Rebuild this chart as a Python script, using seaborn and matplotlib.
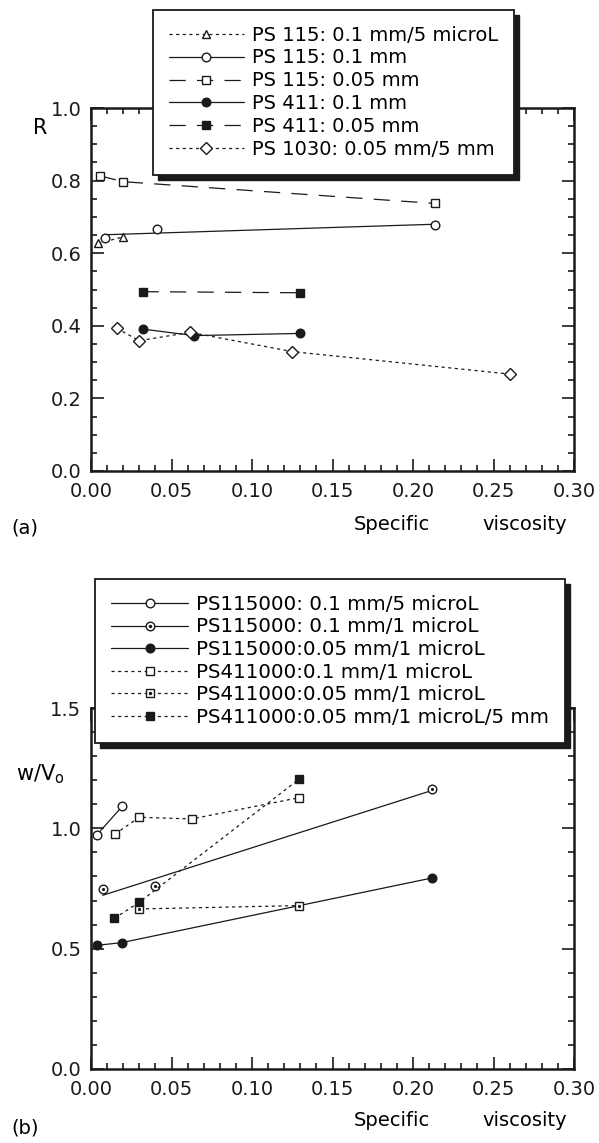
import numpy as np
import pandas as pd
import seaborn as sns
import matplotlib
matplotlib.use("Agg")
import matplotlib.pyplot as plt
from matplotlib.lines import Line2D
from matplotlib.patches import Rectangle
from matplotlib.transforms import IdentityTransform
from matplotlib.ticker import MultipleLocator, FormatStrFormatter

# ---------------- data: panel (a) ----------------
a_tri_x = [0.0045, 0.020]
a_tri_y = [0.627, 0.645]
a_circ_x = [0.0087, 0.041, 0.2137]
a_circ_y = [0.641, 0.667, 0.678]
a_sq_x = [0.0056, 0.020, 0.2137]
a_sq_y = [0.813, 0.797, 0.737]
a_fcirc_x = [0.032, 0.064, 0.130]
a_fcirc_y = [0.391, 0.373, 0.379]
a_fsq_x = [0.032, 0.130]
a_fsq_y = [0.494, 0.491]
a_dia_x = [0.016, 0.030, 0.0615, 0.125, 0.260]
a_dia_y = [0.393, 0.359, 0.382, 0.329, 0.267]
a_labels = ["PS 115: 0.1 mm/5 microL", "PS 115: 0.1 mm", "PS 115: 0.05 mm",
            "PS 411: 0.1 mm", "PS 411: 0.05 mm", "PS 1030: 0.05 mm/5 mm"]

# ---------------- data: panel (b) ----------------
b_c5_x = [0.0035, 0.0195]
b_c5_y = [0.972, 1.092]
b_c1_x = [0.0073, 0.040, 0.212]
b_c1_y = [0.749, 0.759, 1.163]
b_fc_x = [0.004, 0.019, 0.212]
b_fc_y = [0.514, 0.525, 0.794]
b_sq1_x = [0.0149, 0.030, 0.0625, 0.129]
b_sq1_y = [0.976, 1.046, 1.039, 1.127]
b_sq05_x = [0.030, 0.129]
b_sq05_y = [0.665, 0.679]
b_fsq_x = [0.0145, 0.030, 0.129]
b_fsq_y = [0.626, 0.693, 1.203]
b_labels = ["PS115000: 0.1 mm/5 microL", "PS115000: 0.1 mm/1 microL",
            "PS115000:0.05 mm/1 microL", "PS411000:0.1 mm/1 microL",
            "PS411000:0.05 mm/1 microL", "PS411000:0.05 mm/1 microL/5 mm"]

x_ticks = [0.00, 0.05, 0.10, 0.15, 0.20, 0.25, 0.30]

# ---------------- style ----------------
sns.set_theme(style="ticks")
plt.rcParams["font.family"] = ["DejaVu Sans"]
plt.rcParams["axes.facecolor"] = "none"
for k in ("text.color", "axes.labelcolor", "xtick.color", "ytick.color",
          "axes.edgecolor", "xtick.labelcolor", "ytick.labelcolor"):
    plt.rcParams[k] = "black"

LW = 0.9
MS = 6.2
MEW = 1.0
SOLID = "-"
DOTTED = (0, (2.5, 2.8))
DASHED = (0, (13, 9))

fig = plt.figure(figsize=(5.99, 11.43), dpi=100)
fig.patch.set_facecolor("white")
L, W = 91 / 599, 483 / 599
ax_a = fig.add_axes([L, 1 - 471 / 1143, W, 363 / 1143])
ax_b = fig.add_axes([L, 1 - 1069 / 1143, W, 361 / 1143])


def series(ax, x, y, marker, fill, ls, fit=False, dot=False):
    df = pd.DataFrame({"x": x, "y": y})
    mfc = "k" if fill else "white"
    if fit:
        sns.regplot(data=df, x="x", y="y", ax=ax, ci=None, scatter=False,
                    color="k", line_kws=dict(lw=LW, ls=ls))
        sns.lineplot(data=df, x="x", y="y", ax=ax, color="k", lw=0,
                     marker=marker, ms=MS, mfc=mfc, mec="k", mew=MEW, zorder=3)
    else:
        sns.lineplot(data=df, x="x", y="y", ax=ax, color="k", lw=LW, ls=ls,
                     marker=marker, ms=MS, mfc=mfc, mec="k", mew=MEW, zorder=3)
    if dot:
        sns.lineplot(data=df, x="x", y="y", ax=ax, color="k", lw=0,
                     marker="o", ms=1.5, mfc="k", mec="k", zorder=4)


def handle(marker, fill, ls, dot=False):
    h = Line2D([], [], color="k", lw=LW, ls=ls, marker=marker, ms=MS,
               mfc="k" if fill else "white", mec="k", mew=MEW)
    if dot:
        return (h, Line2D([], [], ls="none", marker="o", ms=1.5, color="k"))
    return h


# panel (a)
series(ax_a, a_tri_x, a_tri_y, "^", False, DOTTED)
series(ax_a, a_circ_x, a_circ_y, "o", False, SOLID, fit=True)
series(ax_a, a_sq_x, a_sq_y, "s", False, DASHED)
series(ax_a, a_fcirc_x, a_fcirc_y, "o", True, SOLID)
series(ax_a, a_fsq_x, a_fsq_y, "s", True, DASHED)
series(ax_a, a_dia_x, a_dia_y, "D", False, DOTTED)
a_handles = [handle("^", False, DOTTED), handle("o", False, SOLID),
             handle("s", False, DASHED), handle("o", True, SOLID),
             handle("s", True, DASHED), handle("D", False, DOTTED)]

# panel (b)
series(ax_b, b_c5_x, b_c5_y, "o", False, SOLID)
series(ax_b, b_c1_x, b_c1_y, "o", False, SOLID, fit=True, dot=True)
series(ax_b, b_fc_x, b_fc_y, "o", True, SOLID)
series(ax_b, b_sq1_x, b_sq1_y, "s", False, DOTTED)
series(ax_b, b_sq05_x, b_sq05_y, "s", False, DOTTED, dot=True)
series(ax_b, b_fsq_x, b_fsq_y, "s", True, DOTTED)
b_handles = [handle("o", False, SOLID), handle("o", False, SOLID, dot=True),
             handle("o", True, SOLID), handle("s", False, DOTTED),
             handle("s", False, DOTTED, dot=True), handle("s", True, DOTTED)]

for ax, ymax, ymaj, ymin in [(ax_a, 1.0, 0.2, 0.05), (ax_b, 1.5, 0.5, 0.1)]:
    ax.set_xlim(0, 0.30)
    ax.set_ylim(0, ymax)
    ax.set_xticks(x_ticks)
    ax.xaxis.set_minor_locator(MultipleLocator(0.01))
    ax.yaxis.set_major_locator(MultipleLocator(ymaj))
    ax.yaxis.set_minor_locator(MultipleLocator(ymin))
    ax.xaxis.set_major_formatter(FormatStrFormatter("%.2f"))
    ax.yaxis.set_major_formatter(FormatStrFormatter("%.1f"))
    ax.tick_params(which="both", direction="in", top=True, right=True,
                   color="k", width=1.2, labelsize=14, labelcolor="k")
    ax.tick_params(which="major", length=9)
    ax.tick_params(which="minor", length=4)
    ax.tick_params(axis="x", pad=8)
    ax.tick_params(axis="y", pad=7)
    for s in ax.spines.values():
        s.set_linewidth(1.8)
        s.set_color("k")
    ax.set_xlabel("")
    ax.set_ylabel("")

leg_kw = dict(loc="upper left", bbox_transform=fig.transFigure, frameon=True,
              fancybox=False, edgecolor="k", facecolor="white", framealpha=1,
              handlelength=3.9, handletextpad=0.4, borderaxespad=0)
leg_a = ax_a.legend(a_handles, a_labels, bbox_to_anchor=(153 / 599, 1 - 10 / 1143),
                    fontsize=14, borderpad=0.8, labelspacing=0.2, **leg_kw)
leg_b = ax_b.legend(b_handles, b_labels, bbox_to_anchor=(95 / 599, 1 - 579 / 1143),
                    fontsize=14.3, borderpad=0.8, labelspacing=0.18, **leg_kw)
for leg in (leg_a, leg_b):
    leg.get_frame().set_linewidth(1.3)
    leg.set_zorder(6)

# axis texts
fig.text(40 / 599, 1 - 128 / 1143, "R", fontsize=15, ha="center", va="center")
fig.text(40 / 599, 1 - 774 / 1143, "w/V$_\\mathregular{o}$", fontsize=15, ha="center", va="center")
fig.text(25 / 599, 1 - 528 / 1143, "(a)", fontsize=14, ha="center", va="center")
fig.text(25 / 599, 1 - 1128 / 1143, "(b)", fontsize=14, ha="center", va="center")
for yy in (524, 1120):
    fig.text(392 / 599, 1 - yy / 1143, "Specific", fontsize=14, ha="center", va="center")
    fig.text(525 / 599, 1 - yy / 1143, "viscosity", fontsize=14, ha="center", va="center")

# heavy drop shadows behind legends
fig.canvas.draw()
r = fig.canvas.get_renderer()
for ax, leg in ((ax_a, leg_a), (ax_b, leg_b)):
    bb = leg.get_frame().get_window_extent(r)
    sh = Rectangle((bb.x0 + 5, bb.y0 - 5), bb.width, bb.height,
                   transform=IdentityTransform(), facecolor="k", edgecolor="k",
                   zorder=5.5, clip_on=False)
    ax.add_artist(sh)

fig.savefig("out.png", dpi=100, facecolor="white")
